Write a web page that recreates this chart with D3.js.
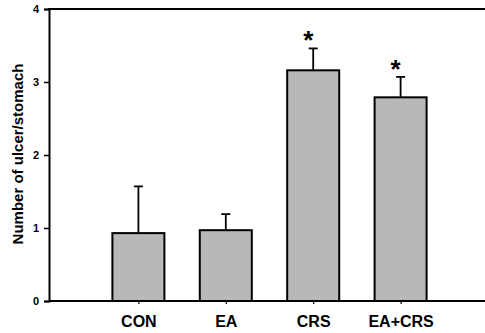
<!DOCTYPE html>
<html><head><meta charset="utf-8">
<script src="https://cdn.jsdelivr.net/npm/d3@7"></script>
<style>body{margin:0;background:#fff}svg{display:block}</style>
</head><body>
<script>
const categories = ["CON", "EA", "CRS", "EA+CRS"];
const means = [0.93, 0.97, 3.16, 2.79];
const errTops = [1.57, 1.19, 3.46, 3.07];
const significant = [false, false, true, true];
const yTicks = [0, 1, 2, 3, 4];

const W = 485, H = 333;
const svg = d3.select("body").append("svg").attr("width", W).attr("height", H);
const font = "'Liberation Sans', Arial, sans-serif";

const x = d3.scalePoint().domain(categories).range([51, 488]).padding(1);
const y = d3.scaleLinear().domain([0, 4]).range([301, 9]);
const barW = 52;

// bars
svg.selectAll("rect.bar").data(categories).enter().append("rect")
  .attr("x", d => x(d) - barW / 2)
  .attr("y", (d, i) => y(means[i]))
  .attr("width", barW)
  .attr("height", (d, i) => y(0) - y(means[i]))
  .attr("fill", "#b8b8b8").attr("stroke", "#000").attr("stroke-width", 2);

// error bars
categories.forEach((c, i) => {
  const cx = x(c);
  svg.append("line").attr("x1", cx).attr("x2", cx)
    .attr("y1", y(means[i])).attr("y2", y(errTops[i]))
    .attr("stroke", "#000").attr("stroke-width", 1.8);
  svg.append("line").attr("x1", cx - 4.5).attr("x2", cx + 4.5)
    .attr("y1", y(errTops[i])).attr("y2", y(errTops[i]))
    .attr("stroke", "#000").attr("stroke-width", 1.8);
  if (significant[i]) {
    svg.append("text").attr("x", cx - 5).attr("y", y(errTops[i]) + 1)
      .attr("text-anchor", "middle").attr("font-family", font)
      .attr("font-weight", "bold").attr("font-size", 26).text("*");
  }
});

// y axis
const yAxis = svg.append("g").attr("transform", "translate(49,0)")
  .call(d3.axisLeft(y).tickValues(yTicks).tickFormat(d3.format("d")).tickSize(5).tickPadding(5));
yAxis.select(".domain").attr("stroke-width", 2);
yAxis.selectAll(".tick line").attr("stroke-width", 1.5);
yAxis.selectAll("text").attr("font-family", font).attr("font-weight", "bold").attr("font-size", 11);

// x axis
const xAxis = svg.append("g").attr("transform", "translate(0,301)")
  .call(d3.axisBottom(x).tickSize(3).tickSizeOuter(0).tickPadding(12));
xAxis.select(".domain").attr("d", "M49,0H485").attr("stroke-width", 2);
xAxis.selectAll(".tick line").attr("stroke-width", 1.2);
xAxis.selectAll("text").attr("font-family", font).attr("font-weight", "bold").attr("font-size", 16);

// top frame
svg.append("line").attr("x1", 48).attr("x2", 485).attr("y1", y(4)).attr("y2", y(4))
  .attr("stroke", "#000").attr("stroke-width", 2);

// y title
svg.append("text").attr("transform", "translate(23,154) rotate(-90)")
  .attr("text-anchor", "middle").attr("font-family", font)
  .attr("font-weight", "bold").attr("font-size", 15).text("Number of ulcer/stomach");
</script>
</body></html>
